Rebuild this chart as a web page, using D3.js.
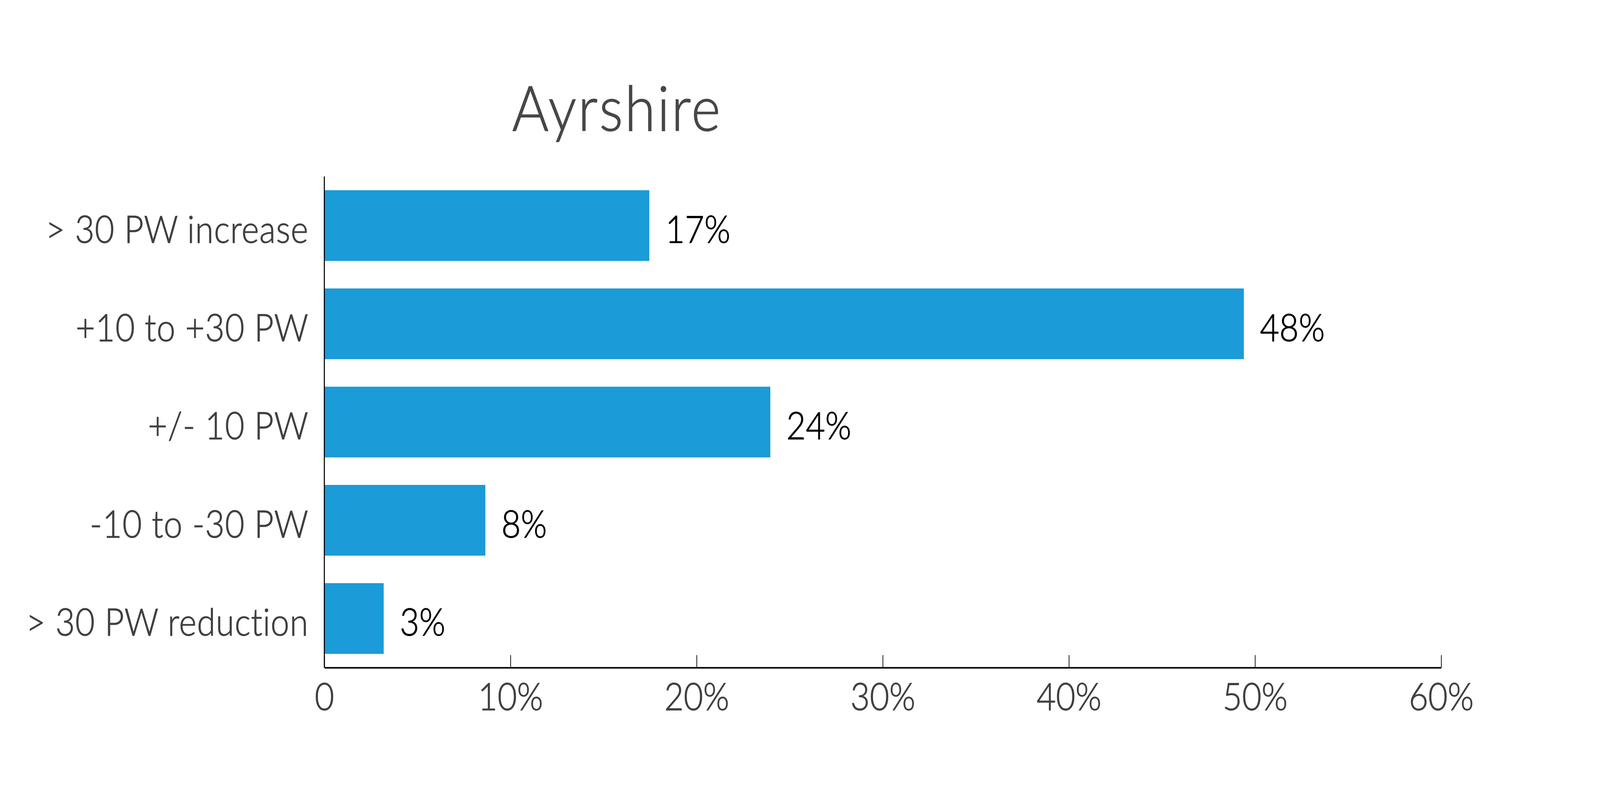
<!DOCTYPE html>
<html>
  <head>
    <meta charset="utf-8">
    <title>Ayrshire</title>
    <script src="https://d3js.org/d3.v7.min.js"></script>
    <style>
      html, body { margin: 0; padding: 0; background: #fff; overflow: hidden; }
      svg { display: block; width: 100vw; height: 100vh; }
      text { font-family: Lato, "Open Sans", sans-serif; font-weight: 300; }
    </style>
  </head>
  <body>
    <div id="chart"></div>
    <script>
      // Chart data
      const categories = ["> 30 PW increase", "+10 to +30 PW", "+/- 10 PW", "-10 to -30 PW", "> 30 PW reduction"];
      const values = [17.46, 49.4, 23.96, 8.65, 3.19];
      const valueLabels = ["17%", "48%", "24%", "8%", "3%"];
      const tickValues = [0, 10, 20, 30, 40, 50, 60];
      const tickLabels = ["0", "10%", "20%", "30%", "40%", "50%", "60%"];
      const title = "Ayrshire";

      const width = 4583;
      const height = 2067;
      const margin = { top: 452, right: 455, bottom: 357, left: 929 };

      // viewBox keeps the drawing filling the window whatever its css size is
      const svg = d3.select("#chart")
        .append("svg")
        .attr("viewBox", `0 0 ${width} ${height}`)
        .attr("preserveAspectRatio", "none");

      svg.append("rect")
        .attr("width", width)
        .attr("height", height)
        .attr("fill", "#fff");

      // Scales
      const x = d3.scaleLinear()
        .domain([0, 60])
        .range([margin.left, width - margin.right]);

      const y = d3.scaleBand()
        .domain(categories)
        .range([margin.top, height - margin.bottom])
        .paddingInner(0.28)
        .paddingOuter(0.14);

      // Title (a thin stroke thickens Lato Light a bit)
      svg.append("text")
        .attr("x", 1467)
        .attr("y", 335)
        .attr("font-size", 160)
        .attr("letter-spacing", 5)
        .attr("fill", "#464848")
        .attr("stroke", "#464848")
        .attr("stroke-width", 1.8)
        .text(title);

      // Bars
      svg.selectAll("rect.bar")
        .data(values)
        .enter()
        .append("rect")
        .attr("class", "bar")
        .attr("x", x(0))
        .attr("y", (d, i) => y(categories[i]))
        .attr("width", d => x(d) - x(0))
        .attr("height", y.bandwidth())
        .attr("fill", "#1b9bd7");

      // Value labels
      svg.selectAll("text.value")
        .data(values)
        .enter()
        .append("text")
        .attr("class", "value")
        .attr("x", d => x(d) + 46)
        .attr("y", (d, i) => y(categories[i]) + y.bandwidth() / 2)
        .attr("dy", "0.46em")
        .attr("font-size", 96)
        .attr("fill", "#000")
        .attr("stroke", "#000")
        .attr("stroke-width", 1.4)
        .text((d, i) => valueLabels[i]);

      // Category labels
      svg.selectAll("text.cat")
        .data(categories)
        .enter()
        .append("text")
        .attr("class", "cat")
        .attr("x", margin.left - 45)
        .attr("y", d => y(d) + y.bandwidth() / 2)
        .attr("dy", "0.46em")
        .attr("text-anchor", "end")
        .attr("font-size", 96)
        .attr("letter-spacing", 1.2)
        .attr("fill", "#404040")
        .attr("stroke", "#404040")
        .attr("stroke-width", 1.4)
        .text(d => d);

      // X axis: ticks point up from the baseline
      const xAxis = d3.axisBottom(x)
        .tickValues(tickValues)
        .tickSize(-32)
        .tickSizeOuter(0)
        .tickPadding(0)
        .tickFormat((d, i) => tickLabels[i]);

      const gx = svg.append("g")
        .attr("transform", `translate(0,${height - margin.bottom})`)
        .call(xAxis);

      gx.select(".domain")
        .attr("stroke", "#000")
        .attr("stroke-width", 4);

      gx.selectAll(".tick line")
        .attr("stroke", "#000")
        .attr("stroke-width", 2);

      gx.selectAll(".tick text")
        .attr("y", 109)
        .attr("dy", 0)
        .attr("font-size", 96)
        .attr("font-family", "Lato, 'Open Sans', sans-serif")
        .attr("font-weight", 300)
        .attr("fill", "#404040")
        .attr("stroke", "#404040")
        .attr("stroke-width", 1.4);

      // Y axis line
      svg.append("line")
        .attr("x1", x(0))
        .attr("x2", x(0))
        .attr("y1", margin.top)
        .attr("y2", height - margin.bottom)
        .attr("stroke", "#000")
        .attr("stroke-width", 3);
    </script>
  </body>
</html>
